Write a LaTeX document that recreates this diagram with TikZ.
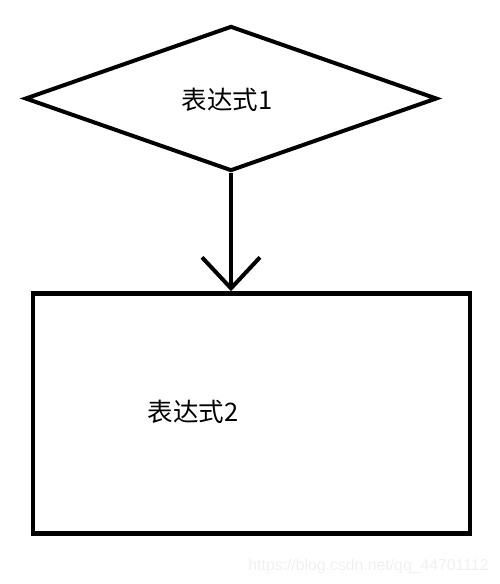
\documentclass[tikz,border=0pt]{standalone}
\usepackage{fontspec}
\newfontfamily\cjk{Noto Sans CJK SC}
\newfontfamily\webfont{Liberation Sans}
\usetikzlibrary{shapes.geometric, arrows.meta}

\begin{document}
\begin{tikzpicture}[x=1pt, y=-1pt,
    cond/.style={diamond, draw, line width=4pt, inner sep=0pt, minimum width=412pt, minimum height=145pt},
    stmt/.style={rectangle, draw, line width=4.5pt, inner sep=0pt, minimum width=437pt, minimum height=240pt},
    label/.style={font=\cjk\fontsize{25.5}{30}\selectfont, inner sep=0pt}]
    \useasboundingbox (0,0) rectangle (500,584);
    \node (cond1) at (231,98.5)  [cond] {};
    \node (text1) at (227,100)   [label] {表达式1};
    \node (stmt2) at (251.5,413.5) [stmt] {};
    \node (text2) at (193,412)   [label] {表达式2};
    \draw[line width=4pt, -{Straight Barb[length=31pt, width=58pt]}] (cond1.south) -- (cond1.south |- stmt2.north);
    \node (mark) at (368.5,566) [font=\webfont\fontsize{15.8}{18}\selectfont, text=black!6, inner sep=0pt] {https://blog.csdn.net/qq\_44701112};
\end{tikzpicture}
\end{document}
